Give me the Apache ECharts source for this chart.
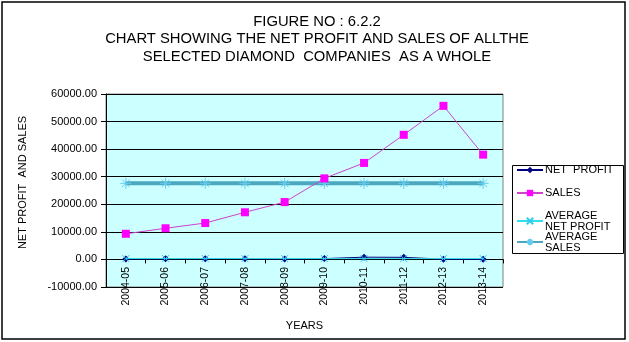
<!DOCTYPE html>
<html>
<head>
<meta charset="utf-8">
<script src="https://cdn.jsdelivr.net/npm/echarts@6/dist/echarts.min.js"></script>
<style>
html,body{margin:0;padding:0;background:#fff;}
#chart{width:629px;height:342px;}
</style>
</head>
<body>
<div id="chart"></div>
<script>
var years = ['2004-05','2005-06','2006-07','2007-08','2008-09','2009-10','2010-11','2011-12','2012-13','2013-14'];
var netProfit = [180, 220, 260, 240, 150, 300, 820, 760, 90, 40];
var sales = [9300, 11300, 13200, 17100, 20800, 29400, 35000, 45200, 55700, 38000];
var avgNetProfit = [306, 306, 306, 306, 306, 306, 306, 306, 306, 306];
var avgSales = [27600, 27600, 27600, 27600, 27600, 27600, 27600, 27600, 27600, 27600];
var yTicks = {min: -10000, max: 60000, step: 10000};

var FONT = '"Liberation Sans", Arial, sans-serif';
var chart = echarts.init(document.getElementById('chart'), null, {renderer: 'canvas'});
var xMark = 'path://M0 0L10 10M10 0L0 10';
var star = 'path://M0 5L10 5M5 0L5 10M1.5 1.5L8.5 8.5M8.5 1.5L1.5 8.5';

chart.setOption({
  backgroundColor: '#fff',
  animation: false,
  textStyle: {fontFamily: FONT, color: '#000'},
  title: {
    text: 'FIGURE NO : 6.2.2\nCHART SHOWING THE NET PROFIT AND SALES OF ALLTHE\nSELECTED DIAMOND  COMPANIES  AS A WHOLE',
    left: 312,
    top: 8,
    textAlign: 'center',
    textStyle: {fontFamily: FONT, fontSize: 14.8, fontWeight: 'normal', lineHeight: 17.5, color: '#000'}
  },
  graphic: [
    {type: 'rect', shape: {x: 2, y: 2, width: 623, height: 337}, style: {fill: 'none', stroke: '#000', lineWidth: 1.5}, silent: true, z: 100},
    {type: 'rect', shape: {x: 512.5, y: 165.5, width: 111, height: 88}, style: {fill: '#fff', stroke: '#000', lineWidth: 1}, silent: true, z: 0}
  ],
  legend: [
    {
      data: ['NET  PROFIT', 'SALES'],
      orient: 'vertical', left: 516, top: 163, padding: 0, itemGap: 9,
      itemWidth: 26, itemHeight: 8, textStyle: {fontSize: 11, fontFamily: FONT, color: '#000', lineHeight: 14, padding: [0,0,0,-3]}
    },
    {
      data: ['AVERAGE\nNET PROFIT'],
      orient: 'vertical', left: 516, top: 210, padding: 0,
      itemWidth: 26, itemHeight: 8, textStyle: {fontSize: 11, fontFamily: FONT, color: '#000', lineHeight: 11, padding: [0,0,0,-3]}
    },
    {
      data: ['AVERAGE\nSALES'],
      orient: 'vertical', left: 516, top: 231, padding: 0,
      itemWidth: 26, itemHeight: 8, textStyle: {fontSize: 11, fontFamily: FONT, color: '#000', lineHeight: 11, padding: [0,0,0,-3]}
    }
  ],
  grid: {
    left: 106, right: 126, top: 94, bottom: 55,
    outerBoundsMode: 'none', containLabel: false,
    show: true, backgroundColor: '#CCFFFF', borderColor: '#808080', borderWidth: 1
  },
  xAxis: {
    type: 'category',
    data: years,
    boundaryGap: true,
    name: 'YEARS',
    nameLocation: 'middle',
    nameGap: 33,
    nameTextStyle: {fontSize: 11, fontFamily: FONT, color: '#000'},
    axisLine: {onZero: true, lineStyle: {color: '#000', width: 1}},
    axisTick: {show: true, length: 4, lineStyle: {color: '#000'}},
    axisLabel: {rotate: 90, fontSize: 10.5, fontFamily: FONT, color: '#000', margin: -20, interval: 0},
    splitLine: {show: false}
  },
  yAxis: {
    type: 'value',
    min: yTicks.min, max: yTicks.max, interval: yTicks.step,
    name: 'NET PROFIT  AND SALES',
    nameLocation: 'middle',
    nameGap: 78,
    nameTextStyle: {fontSize: 11, fontFamily: FONT, color: '#000', padding: [0, 0, 0, 16]},
    axisLine: {show: true, lineStyle: {color: '#000', width: 1}},
    axisTick: {show: true, length: 5, lineStyle: {color: '#000'}},
    axisLabel: {fontSize: 11, fontFamily: FONT, color: '#000', margin: 9, formatter: function (v) { return v.toFixed(2); }},
    splitLine: {show: true, lineStyle: {color: '#000', width: 1}}
  },
  series: [
    {
      name: 'NET  PROFIT', type: 'line', data: netProfit,
      symbol: 'diamond', symbolSize: 7,
      itemStyle: {color: '#000080'},
      lineStyle: {color: '#000080', width: 1},
      z: 5
    },
    {
      name: 'SALES', type: 'line', data: sales,
      symbol: 'rect', symbolSize: 8,
      itemStyle: {color: '#FF00FF'},
      lineStyle: {color: '#CC44CC', width: 1},
      z: 4
    },
    {
      name: 'AVERAGE\nNET PROFIT', type: 'line', data: avgNetProfit,
      symbol: xMark, symbolSize: 7,
      itemStyle: {color: 'rgba(0,0,0,0)', borderColor: '#33CCEE', borderWidth: 1},
      lineStyle: {color: '#33DDEE', width: 1},
      z: 6
    },
    {
      name: 'AVERAGE\nSALES', type: 'line', data: avgSales,
      symbol: star, symbolSize: 11,
      itemStyle: {color: 'rgba(0,0,0,0)', borderColor: '#66CCEE', borderWidth: 1},
      lineStyle: {color: '#4BA8C0', width: 4},
      z: 3
    }
  ]
});
</script>
</body>
</html>
